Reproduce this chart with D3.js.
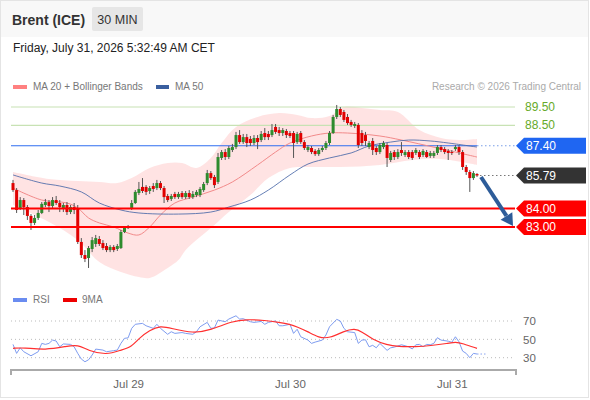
<!DOCTYPE html>
<html><head><meta charset="utf-8">
<script src="https://cdn.jsdelivr.net/npm/d3@7"></script>
<style>
body{margin:0;background:#fff;}
svg{display:block;font-family:"Liberation Sans",Arial,Helvetica,sans-serif;}
</style></head><body>
<svg id="c" width="590" height="400"></svg>
<script>
// ---------------- DATA ----------------
const title = "Brent (ICE)";
const period = "30 MIN";
const stamp = "Friday, July 31, 2026 5:32:49 AM CET";
const dayIdx = [32, 77, 122];
const dayLabels = ["Jul 29", "Jul 30", "Jul 31"];

const openP = [
85.38,85.00,84.03,84.46,84.08,83.60,83.22,83.49,83.76,84.19,
84.35,84.14,84.46,84.30,84.03,84.19,83.81,84.08,84.03,82.19,
81.48,81.32,81.81,82.08,82.35,82.13,81.97,81.75,81.92,81.81,
81.86,82.73,82.94,84.03,84.30,84.84,85.17,85.17,84.95,85.22,
85.11,85.38,85.11,84.68,84.52,84.79,84.62,84.84,84.62,84.84,
84.62,84.73,84.73,85.00,85.38,85.92,85.71,85.44,86.74,87.06,
86.79,87.17,87.33,87.98,87.60,87.87,87.77,87.55,87.82,87.71,
88.09,88.04,87.98,88.42,88.25,88.09,88.20,88.09,88.09,87.60,
88.09,87.60,87.17,87.28,87.12,86.95,87.17,87.28,87.55,88.09,
88.96,89.39,89.23,88.96,88.69,88.47,88.53,88.09,87.98,87.33,
87.66,87.28,87.06,87.33,87.44,86.63,87.06,86.79,87.17,86.90,
87.06,87.06,87.01,87.06,86.90,87.06,86.85,86.85,87.01,87.33,
87.22,87.12,87.06,87.22,87.33,87.06,86.25,85.98,85.65,85.87];
const highP = [
85.55,85.11,84.62,84.57,84.19,83.70,83.65,83.92,84.35,84.52,
84.46,84.62,84.68,84.46,84.30,84.35,84.19,84.30,84.19,82.40,
81.75,81.97,82.46,82.57,82.51,82.29,82.13,82.02,82.02,82.08,
82.84,83.05,83.11,84.46,85.00,85.44,85.65,85.27,85.22,85.38,
85.55,85.49,85.22,84.79,84.79,84.90,84.90,84.95,84.95,85.00,
84.95,85.00,85.17,85.44,86.09,86.03,85.82,87.01,87.17,87.22,
87.39,87.50,88.15,88.25,88.04,88.04,87.93,87.98,87.98,88.20,
88.36,88.20,88.58,88.58,88.42,88.36,88.31,88.20,88.20,88.15,
88.20,87.71,87.44,87.39,87.22,87.28,87.39,87.66,88.20,89.07,
89.61,89.50,89.34,89.12,88.80,88.69,88.63,88.25,88.15,87.66,
87.82,87.39,87.55,87.66,87.55,87.12,87.17,87.22,87.60,87.17,
87.17,87.17,87.28,87.17,87.22,87.17,87.12,87.12,87.44,87.44,
87.33,87.22,87.17,87.44,87.44,87.17,86.36,86.09,86.03,85.92];
const lowP = [
84.90,83.76,83.92,83.65,83.38,82.84,83.11,83.38,83.70,84.08,
83.81,84.03,84.19,83.81,83.81,83.65,83.70,83.70,82.08,81.32,
81.10,80.78,81.64,81.92,81.97,81.75,81.64,81.64,81.64,81.70,
81.81,82.67,82.89,83.92,84.25,84.73,84.84,84.73,84.79,84.90,
85.00,85.00,84.30,84.35,84.41,84.52,84.52,84.52,84.52,84.52,
84.52,84.62,84.62,84.90,85.27,85.55,85.11,85.33,86.63,86.63,
86.68,87.06,87.22,87.50,87.50,87.33,87.39,87.44,87.22,87.60,
87.71,87.71,87.87,88.04,87.93,87.93,87.82,87.82,86.74,87.50,
87.50,87.17,87.06,86.95,86.85,86.85,87.06,87.17,87.44,88.04,
88.85,88.96,88.69,88.53,88.42,88.36,87.28,87.39,87.39,87.22,
86.90,86.90,86.95,87.22,86.25,86.52,86.63,86.68,86.85,86.79,
86.68,86.63,86.90,86.68,86.79,86.74,86.74,86.74,86.90,87.06,
86.95,86.63,86.90,87.12,86.90,86.09,85.82,84.90,85.55,85.71];
const closeP = [
85.00,83.92,84.46,84.08,83.60,83.22,83.49,83.76,84.25,84.35,
84.14,84.46,84.30,84.08,84.19,83.81,84.08,83.92,82.19,81.48,
81.27,81.86,82.29,82.40,82.08,81.86,81.75,81.92,81.75,81.97,
82.73,83.00,83.05,84.30,84.90,85.06,84.95,84.90,85.11,85.06,
85.38,85.11,84.62,84.46,84.68,84.62,84.79,84.62,84.84,84.62,
84.79,84.90,85.06,85.33,85.92,85.65,85.27,86.79,87.06,86.79,
87.28,87.33,87.98,87.60,87.87,87.55,87.55,87.82,87.60,88.04,
87.87,87.87,88.25,88.15,88.09,88.25,87.98,87.93,87.55,88.04,
87.60,87.28,87.33,87.06,86.95,87.17,87.28,87.55,88.09,88.96,
89.39,89.07,88.80,88.63,88.53,88.58,87.44,87.55,87.66,87.55,
87.17,87.06,87.44,87.55,86.74,87.01,86.79,87.06,87.01,87.06,
86.79,86.74,87.17,86.79,87.12,86.79,87.01,87.01,87.33,87.17,
87.06,87.01,87.01,87.33,87.06,86.25,85.98,85.65,85.92,85.79];

const upperIdx = [0,10,18,24,29,33,38,43,47,51,55,58,62,68,74,79,83,88,92,97,102,107,113,119,124,129];
const upperBand = [85.98,85.60,85.49,85.44,85.38,85.65,86.20,86.47,86.47,86.20,86.74,87.55,88.42,88.96,89.17,89.07,88.90,89.01,89.50,89.45,89.34,89.23,88.25,87.82,87.71,87.77];
const lowerIdx = [0,10,18,24,30,35,38,43,46,48,51,56,60,66,71,77,83,91,102,111,119,129];
const lowerBand = [84.19,83.27,82.29,81.10,80.56,80.29,80.24,80.78,81.21,81.75,82.29,83.11,83.81,84.73,85.65,86.20,86.25,86.25,86.36,86.63,86.68,86.36];
const ma20Idx = [0,8,15,18,21,24,28,32,35,38,41,45,50,56,61,68,73,77,83,88,93,102,108,118,129];
const ma20 = [85.11,84.46,84.30,84.03,83.49,83.22,83.00,82.67,82.57,83.00,83.65,84.30,84.62,85.00,85.44,86.36,87.06,87.55,87.93,88.09,88.09,87.93,87.71,87.28,86.79];
const ma50Idx = [0,8,13,19,24,30,35,46,55,60,66,71,77,82,88,94,99,105,110,116,121,129];
const ma50 = [85.82,85.38,85.22,84.90,84.30,83.92,83.76,83.70,83.81,84.08,84.46,85.00,85.82,86.41,86.74,87.01,87.39,87.60,87.71,87.66,87.55,87.33];

const resistances = [89.50, 88.50];
const pivot = 87.40;
const lastPrice = 85.79;
const supports = [84.00, 83.00];
const targetPrice = 83.00;

const rsiIdx = [0,1,2,3,5,7,8,9,10,11,12,13,14,16,17,18,19,20,21,22,23,25,26,28,29,30,31,32,33,34,36,37,39,40,41,43,44,45,47,48,50,51,52,54,55,56,57,59,60,62,63,64,66,67,69,70,71,73,74,75,77,78,79,80,82,83,84,86,87,88,90,91,92,93,95,96,97,98,99,100,101,102,104,105,106,108,110,111,112,113,114,115,116,117,118,119,121,122,123,124,125,126,127,128,129];
const rsiVal = [44.5,34.7,40.8,36.5,32.1,36.5,45.6,44.5,45.6,49.2,48.2,41.9,45.0,44.5,41.9,34.7,28.5,25.6,27.7,32.9,39.4,38.3,36.5,37.7,38.3,45.6,51.1,51.6,62.0,66.4,67.4,64.8,62.0,66.4,62.0,55.5,58.3,56.5,57.4,56.5,55.5,58.3,63.7,68.5,62.0,62.5,71.0,69.2,72.1,75.7,72.1,72.5,69.2,68.5,69.5,66.4,68.5,70.1,64.8,64.8,66.4,56.5,61.0,52.8,49.2,45.6,47.0,49.2,54.7,63.7,71.8,70.0,62.0,58.3,57.4,45.6,49.2,49.5,41.9,43.5,40.8,45.6,38.0,40.8,41.5,44.1,41.9,39.5,44.1,44.5,41.9,44.5,44.1,45.6,51.8,49.2,48.0,46.8,52.8,47.3,37.2,34.7,30.0,34.7,34.0];
const ma9Idx = [0,3,9,15,18,21,26,30,33,35,38,41,44,50,55,61,65,70,74,77,79,82,85,88,92,95,97,100,104,107,112,116,121,123,125,129];
const ma9Val = [40.2,41.0,38.3,42.5,44.4,37.5,32.9,38.3,41.9,51.1,60.1,64.8,62.0,56.5,60.1,70.0,71.8,70.7,68.5,66.4,63.7,58.3,51.8,51.1,59.0,62.0,58.3,49.7,43.8,42.0,42.0,43.0,45.6,47.3,45.6,40.2];
const rsiTicks = [30, 50, 70];

// ---------------- CHART ----------------
const zip = (a, b) => a.slice(0, Math.min(a.length, b.length)).map((v, i) => [v, b[i]]);
const svg = d3.select("#c");
const N = closeP.length;
const x = d3.scaleLinear().domain([0, N - 1]).range([13, 477]);
const y = d3.scaleLinear().domain([83, 89.5]).range([227, 107]);
const yr = d3.scaleLinear().domain([30, 70]).range([357.7, 321]);
const L = 11, R = 515;

// frame + header
svg.append("rect").attr("x", 0.5).attr("y", 0.5).attr("width", 588).attr("height", 397)
  .attr("fill", "#fff").attr("stroke", "#e4e4e4");
svg.append("rect").attr("x", 1).attr("y", 1).attr("width", 587).attr("height", 36).attr("fill", "#f8f8f8");
svg.append("text").attr("x", 12).attr("y", 25).attr("font-size", 14).attr("font-weight", "bold")
  .attr("fill", "#333").text(title);
svg.append("rect").attr("x", 92).attr("y", 7).attr("width", 51).attr("height", 24).attr("rx", 2).attr("fill", "#e6e6e6");
svg.append("text").attr("x", 117.5).attr("y", 24).attr("text-anchor", "middle").attr("font-size", 12.5)
  .attr("fill", "#333").text(period);
svg.append("text").attr("x", 13).attr("y", 52).attr("font-size", 12).attr("fill", "#222").text(stamp);

// legend
svg.append("rect").attr("x", 13).attr("y", 85).attr("width", 14).attr("height", 4).attr("fill", "#ff8080");
svg.append("text").attr("x", 33).attr("y", 90).attr("font-size", 10).attr("fill", "#777").text("MA 20 + Bollinger Bands");
svg.append("rect").attr("x", 156).attr("y", 85).attr("width", 13).attr("height", 4).attr("fill", "#3a5f9f");
svg.append("text").attr("x", 175).attr("y", 90).attr("font-size", 10).attr("fill", "#777").text("MA 50");
svg.append("text").attr("x", 581).attr("y", 90).attr("text-anchor", "end").attr("font-size", 10).attr("fill", "#aaa")
  .text("Research \u00a9 2026 Trading Central");

// bollinger band
const lineC = d3.line().x(d => x(d[0])).y(d => y(d[1])).curve(d3.curveCatmullRom.alpha(0.5));
const up = zip(upperIdx, upperBand);
const lo = zip(lowerIdx, lowerBand).reverse();
svg.append("path").attr("d", lineC(up) + lineC(lo).replace(/^M/, "L") + "Z")
  .attr("fill", "#ffdcdc").attr("fill-opacity", 0.8);

// level lines
resistances.forEach(p => {
  svg.append("line").attr("x1", L).attr("x2", R).attr("y1", y(p)).attr("y2", y(p))
    .attr("stroke", "#c8e2b4").attr("stroke-width", 1.2);
  svg.append("text").attr("x", 525).attr("y", y(p) + 4).attr("font-size", 12).attr("fill", "#66aa2a")
    .text(p.toFixed(2));
});
svg.append("line").attr("x1", L).attr("x2", x(N - 1)).attr("y1", y(pivot)).attr("y2", y(pivot))
  .attr("stroke", "#2f6ef0").attr("stroke-width", 1.2);
svg.append("line").attr("x1", x(N - 1)).attr("x2", R).attr("y1", y(pivot)).attr("y2", y(pivot))
  .attr("stroke", "#7a9ee8").attr("stroke-width", 1.2).attr("stroke-dasharray", "1.5,2.5");

// moving averages
svg.append("path").attr("d", lineC(zip(ma20Idx, ma20))).attr("fill", "none")
  .attr("stroke", "#f28a8a").attr("stroke-width", 1);
svg.append("path").attr("d", lineC(zip(ma50Idx, ma50))).attr("fill", "none")
  .attr("stroke", "#4a68a8").attr("stroke-width", 1).attr("stroke-opacity", 0.85);

// candles
const candles = d3.range(N).map(i => ({ i, o: openP[i], h: highP[i], l: lowP[i], c: closeP[i] }));
const g = svg.append("g");
g.selectAll("line.w").data(candles).join("line").attr("class", "w")
  .attr("x1", d => x(d.i)).attr("x2", d => x(d.i))
  .attr("y1", d => y(d.h)).attr("y2", d => y(d.l))
  .attr("stroke", "#555").attr("stroke-width", 1);
g.selectAll("rect.b").data(candles).join("rect").attr("class", "b")
  .attr("x", d => x(d.i) - 1.5).attr("width", 3)
  .attr("y", d => y(Math.max(d.o, d.c)))
  .attr("height", d => Math.max(1, Math.abs(y(d.o) - y(d.c))))
  .attr("fill", d => d.c >= d.o ? "#2e8b2e" : "#e00000");

// support lines (on top)
supports.forEach(p => {
  svg.append("line").attr("x1", L).attr("x2", R).attr("y1", y(p)).attr("y2", y(p))
    .attr("stroke", "#ff0000").attr("stroke-width", 2);
});

// last price dotted
svg.append("line").attr("x1", x(N - 1) + 3).attr("x2", R).attr("y1", y(lastPrice)).attr("y2", y(lastPrice))
  .attr("stroke", "#777").attr("stroke-width", 1.2).attr("stroke-dasharray", "1.5,2.5");

// price tags
function tag(p, fill) {
  const c = y(p);
  svg.append("path").attr("d", `M516,${c}L524,${c - 8}L586,${c - 8}L586,${c + 8}L524,${c + 8}Z`).attr("fill", fill);
  svg.append("text").attr("x", 526).attr("y", c + 4.2).attr("font-size", 12).attr("fill", "#fff").text(p.toFixed(2));
}
tag(pivot, "#1f66f2");
tag(lastPrice, "#333333");
supports.forEach(p => tag(p, "#ff0000"));

// projection arrow
const sx = x(N - 1) + 4, sy = y(lastPrice) + 1.5;
const ex = x(N - 1) + 36, ey = y(targetPrice) - 1;
const dx = ex - sx, dy = ey - sy, len = Math.hypot(dx, dy), ux = dx / len, uy = dy / len;
const bx = ex - 12 * ux, by = ey - 12 * uy;
svg.append("line").attr("x1", sx).attr("y1", sy).attr("x2", bx).attr("y2", by)
  .attr("stroke", "#2d5c99").attr("stroke-width", 4);
svg.append("path").attr("d", `M${ex},${ey}L${bx - 7 * uy},${by + 7 * ux}L${bx + 7 * uy},${by - 7 * ux}Z`)
  .attr("fill", "#2d5c99");

// ---------------- RSI PANEL ----------------
svg.append("rect").attr("x", 13).attr("y", 298).attr("width", 14).attr("height", 4).attr("fill", "#6a8cf0");
svg.append("text").attr("x", 33).attr("y", 303).attr("font-size", 10).attr("fill", "#777").text("RSI");
svg.append("rect").attr("x", 63).attr("y", 298).attr("width", 14).attr("height", 4).attr("fill", "#ee0000");
svg.append("text").attr("x", 82).attr("y", 303).attr("font-size", 10).attr("fill", "#777").text("9MA");

rsiTicks.forEach(t => {
  svg.append("line").attr("x1", L).attr("x2", R).attr("y1", yr(t)).attr("y2", yr(t))
    .attr("stroke", "#bbb").attr("stroke-dasharray", "1,3");
});
const ra = svg.append("g").attr("transform", "translate(520,0)")
  .call(d3.axisRight(yr).tickValues(rsiTicks).tickSize(0));
ra.select(".domain").remove();
ra.selectAll("text").attr("font-size", 11.5).attr("fill", "#666").attr("font-family", "Liberation Sans, Arial, sans-serif");

const rl = d3.line().x(d => x(d[0])).y(d => yr(d[1]));
svg.append("path").attr("d", rl(zip(rsiIdx, rsiVal))).attr("fill", "none")
  .attr("stroke", "#7e9cf0").attr("stroke-width", 1);
svg.append("path").attr("d", d3.line().x(d => x(d[0])).y(d => yr(d[1])).curve(d3.curveBasis)(zip(ma9Idx, ma9Val)))
  .attr("fill", "none").attr("stroke", "#ff3030").attr("stroke-width", 1.2);
const lastR = rsiVal[rsiVal.length - 1];
svg.append("line").attr("x1", x(N - 1)).attr("x2", x(N - 1) + 10).attr("y1", yr(lastR)).attr("y2", yr(lastR))
  .attr("stroke", "#8aa4f0").attr("stroke-dasharray", "1.5,2");

// x axis
svg.append("path").attr("d", `M${L},375V370H${R + 1}V375`).attr("fill", "none")
  .attr("stroke", "#aaa").attr("stroke-width", 2);
const xa = svg.append("g").attr("transform", "translate(0,375)")
  .call(d3.axisBottom(x).tickValues(dayIdx).tickFormat((d, i) => dayLabels[i]).tickSize(0));
xa.select(".domain").remove();
xa.selectAll("text").attr("font-size", 11.5).attr("fill", "#666").attr("dy", "0.9em")
  .attr("font-family", "Liberation Sans, Arial, sans-serif");
</script>
</body></html>
